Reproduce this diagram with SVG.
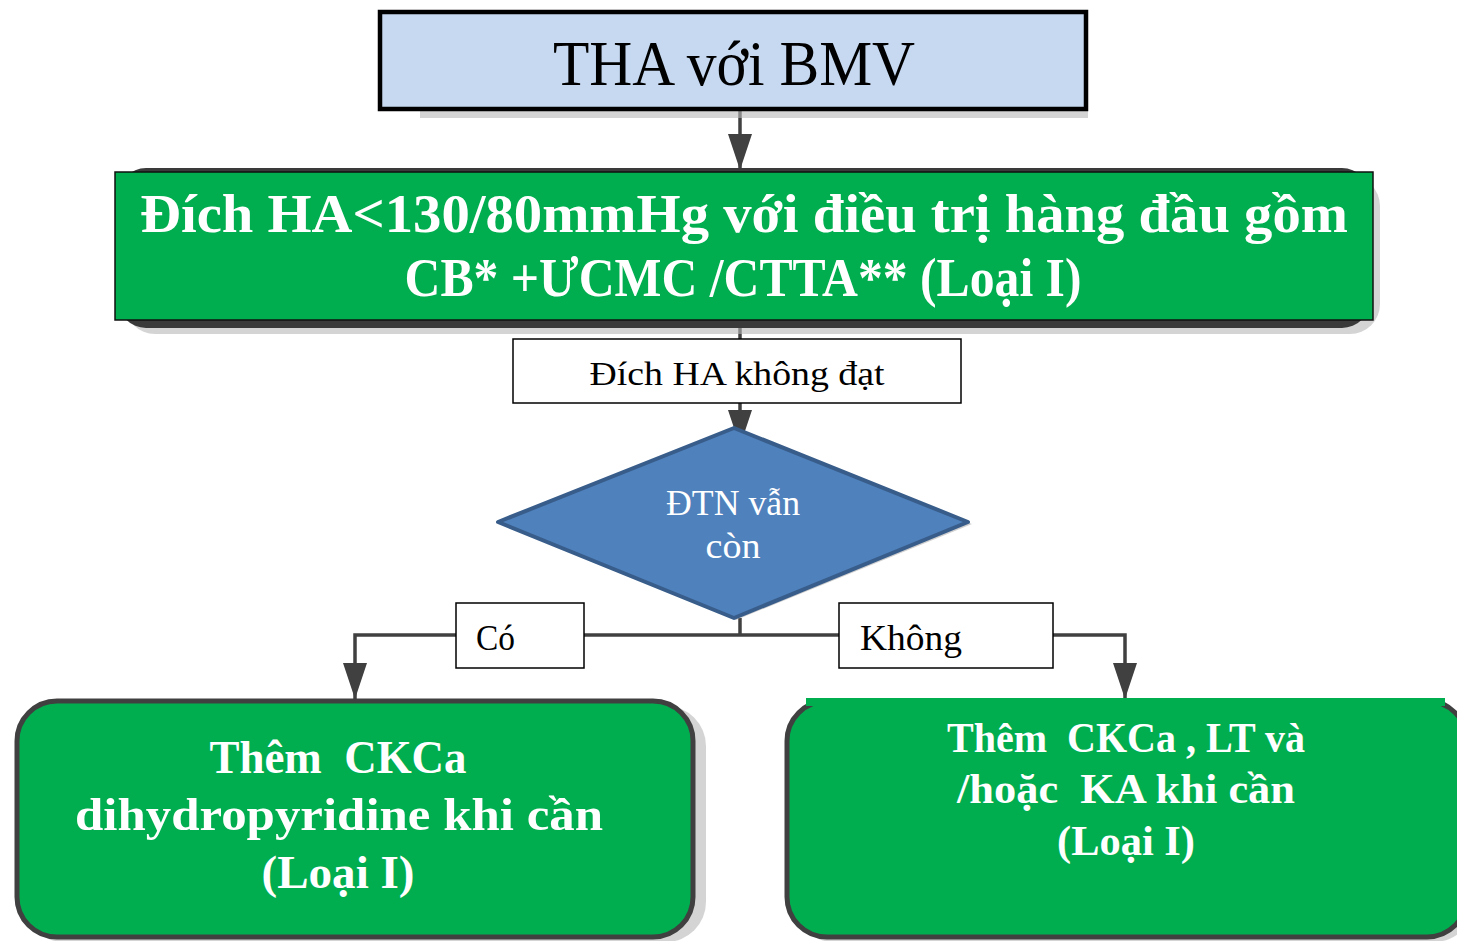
<svg xmlns="http://www.w3.org/2000/svg" width="1457" height="941" viewBox="0 0 1457 941">
<style>
.t{font-family:"Liberation Serif","DejaVu Serif",serif;white-space:pre}
.w{fill:#ffffff;font-weight:bold}
.k{fill:#000000}
.c{stroke:#404040;stroke-width:3.5;fill:none}
</style>
<defs>
<marker id="ab" markerWidth="36" markerHeight="24" refX="36" refY="12" orient="auto" markerUnits="userSpaceOnUse" viewBox="0 0 36 24">
<path d="M0,0 L36,12 L0,24 Z" fill="#404040"/>
</marker>
</defs>
<rect width="1457" height="941" fill="#ffffff"/>

<g id="connectors">
<line class="c" x1="740" y1="111" x2="740" y2="170" marker-end="url(#ab)"/>
<line class="c" x1="740" y1="320" x2="740" y2="340"/>
<line class="c" x1="740" y1="403" x2="740" y2="446" marker-end="url(#ab)"/>
<line class="c" x1="740" y1="618" x2="740" y2="636"/>
<polyline class="c" points="456,635 355,635 355,699" marker-end="url(#ab)"/>
<line class="c" x1="584" y1="635" x2="839" y2="635"/>
<polyline class="c" points="1053,635 1125,635 1125,699" marker-end="url(#ab)"/>
</g>

<g id="node-tha">
<rect x="420" y="108" width="668" height="10" fill="#b8b8b8" opacity="0.6"/>
<rect x="380" y="12" width="706" height="97" fill="#c6d9f1" stroke="#000000" stroke-width="4.5"/>
<text class="t k" x="734" y="85" font-size="64" text-anchor="middle" textLength="362" lengthAdjust="spacingAndGlyphs">THA với BMV</text>
</g>

<g id="node-dich">
<rect x="125" y="176" width="1255" height="158" rx="30" fill="#b8b8b8" opacity="0.6"/>
<rect x="118" y="168" width="1252" height="160" rx="28" fill="#3a3a3a"/>
<rect x="115" y="172" width="1258" height="148" fill="#00ae4f" stroke="#111111" stroke-width="1.5"/>
<text class="t w" x="744" y="232" font-size="55" text-anchor="middle" textLength="1208" lengthAdjust="spacingAndGlyphs">Đích HA&lt;130/80mmHg với điều trị hàng đầu gồm</text>
<text class="t w" x="743" y="296" font-size="55" text-anchor="middle" textLength="677" lengthAdjust="spacingAndGlyphs">CB* +ƯCMC /CTTA** (Loại I)</text>
</g>

<g id="node-khongdat">
<rect x="513" y="339" width="448" height="64" fill="#ffffff" stroke="#000000" stroke-width="1.5"/>
<text class="t k" x="737" y="385" font-size="34" text-anchor="middle" textLength="295" lengthAdjust="spacingAndGlyphs">Đích HA không đạt</text>
</g>

<g id="node-dtn">
<polygon points="500,524 736,430 972,524 736,620" fill="#a0a0a0" opacity="0.5"/>
<polygon points="498,522 734,428 968,522 734,618" fill="#4f81bd" stroke="#385d8a" stroke-width="4" stroke-linejoin="round"/>
<text class="t" fill="#ffffff" x="733" y="515" font-size="35" text-anchor="middle" textLength="134" lengthAdjust="spacingAndGlyphs">ĐTN vẫn</text>
<text class="t" fill="#ffffff" x="733" y="558" font-size="35" text-anchor="middle" textLength="55" lengthAdjust="spacingAndGlyphs">còn</text>
</g>

<g id="label-co">
<rect x="456" y="603" width="128" height="65" fill="#ffffff" stroke="#000000" stroke-width="1.5"/>
<text class="t k" x="476" y="650" font-size="35" textLength="39" lengthAdjust="spacingAndGlyphs">Có</text>
</g>

<g id="label-khong">
<rect x="839" y="603" width="214" height="65" fill="#ffffff" stroke="#000000" stroke-width="1.5"/>
<text class="t k" x="860" y="650" font-size="35" textLength="102" lengthAdjust="spacingAndGlyphs">Không</text>
</g>

<g id="node-left">
<rect x="24" y="706" width="682" height="236" rx="40" fill="#b8b8b8" opacity="0.6"/>
<rect x="17" y="701" width="676" height="236" rx="40" fill="#00ae4f" stroke="#404040" stroke-width="5"/>
<text class="t w" x="338" y="773" font-size="46" text-anchor="middle" textLength="257" lengthAdjust="spacingAndGlyphs">Thêm  CKCa</text>
<text class="t w" x="339" y="830" font-size="46" text-anchor="middle" textLength="528" lengthAdjust="spacingAndGlyphs">dihydropyridine khi cần</text>
<text class="t w" x="338" y="888" font-size="46" text-anchor="middle" textLength="153" lengthAdjust="spacingAndGlyphs">(Loại I)</text>
</g>

<g id="node-right">
<rect x="794" y="706" width="680" height="236" rx="40" fill="#b8b8b8" opacity="0.6"/>
<rect x="787" y="701" width="680" height="236" rx="40" fill="#00ae4f" stroke="#404040" stroke-width="5"/>
<rect x="806" y="698" width="639" height="8" fill="#00ae4f"/>
<text class="t w" x="1126" y="752" font-size="42" text-anchor="middle" textLength="358" lengthAdjust="spacingAndGlyphs">Thêm  CKCa , LT và</text>
<text class="t w" x="1126" y="803" font-size="42" text-anchor="middle" textLength="338" lengthAdjust="spacingAndGlyphs">/hoặc  KA khi cần</text>
<text class="t w" x="1126" y="855" font-size="42" text-anchor="middle" textLength="138" lengthAdjust="spacingAndGlyphs">(Loại I)</text>
</g>
</svg>
